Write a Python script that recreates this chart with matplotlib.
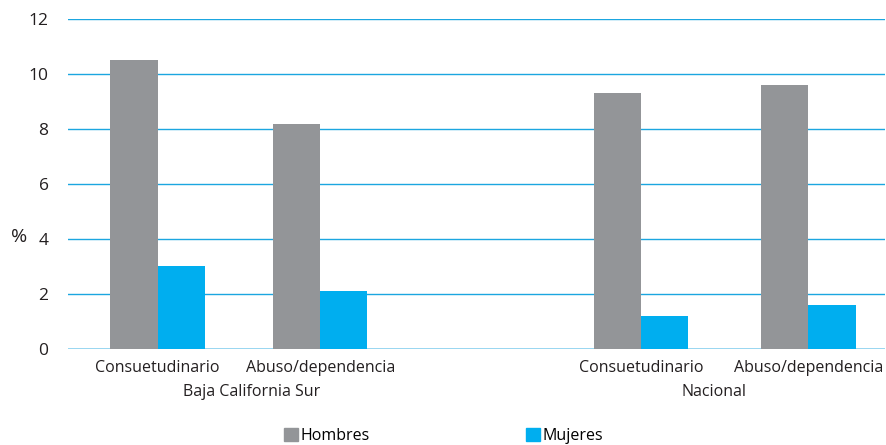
import matplotlib
matplotlib.use("Agg")
import matplotlib.pyplot as plt
from matplotlib.patches import Patch

plt.rcParams["font.family"] = ["Open Sans", "DejaVu Sans"]

categories = ["Consuetudinario", "Abuso/dependencia", "Consuetudinario", "Abuso/dependencia"]
groups = ["Baja California Sur", "Nacional"]
hombres = [10.5, 8.2, 9.3, 9.6]
mujeres = [3.0, 2.1, 1.2, 1.6]
positions = [0, 1, 2.97, 4]
group_pos = [0.58, 3.42]

gray = "#939598"
blue = "#00aeef"
grid = "#1ba6e0"
txt = "#231f20"

fig = plt.figure(figsize=(8.87, 4.45), dpi=100)
ax = fig.add_axes([0.0767, 0.216, 0.921, 0.741])

w = 0.29
ax.bar([p - w / 2 for p in positions], hombres, width=w, color=gray, zorder=3)
ax.bar([p + w / 2 for p in positions], mujeres, width=w, color=blue, zorder=3)

ax.set_ylim(0, 12)
ax.set_xlim(-0.55, 4.47)
ax.set_yticks(range(0, 13, 2))
for v in range(2, 13, 2):
    ax.axhline(v, color=grid, lw=1.0, zorder=1)
ax.axhline(0, color="#8fd3f0", lw=2.0, zorder=2)

for s in ax.spines.values():
    s.set_visible(False)
ax.tick_params(axis="y", length=0, pad=14, labelsize=12.5, labelcolor=txt)
ax.tick_params(axis="x", length=0, pad=8, labelsize=11.5, labelcolor=txt)
ax.set_xticks(positions)
ax.set_xticklabels(categories)

for g, gp in zip(groups, group_pos):
    ax.text(gp, -0.105, g, transform=ax.get_xaxis_transform(), ha="center", va="top",
            fontsize=11.5, color=txt)

fig.text(0.012, 0.468, "%", fontsize=14, color=txt, va="center", ha="left")

handles = [Patch(color=gray, label="Hombres"), Patch(color=blue, label="Mujeres")]
fig.legend(handles=handles, loc="center", bbox_to_anchor=(0.5, 0.02), ncol=2, frameon=False,
           fontsize=11.5, handlelength=0.9, handleheight=0.9, handletextpad=0.15,
           columnspacing=9.8)

fig.savefig("out.png", dpi=100)
